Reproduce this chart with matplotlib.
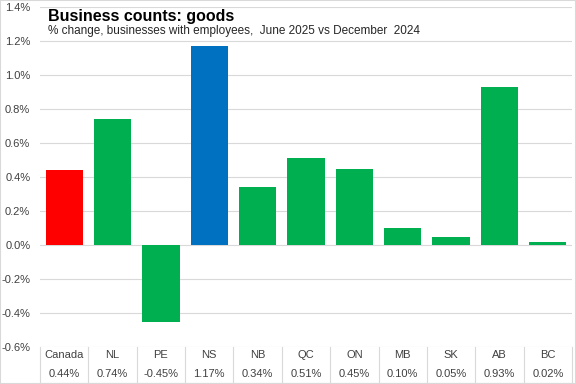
import numpy as np
import matplotlib.pyplot as plt
import matplotlib.transforms as mtransforms
from matplotlib.patches import Rectangle

# Data
regions = ["Canada", "NL", "PE", "NS", "NB", "QC", "ON", "MB", "SK", "AB", "BC"]
changes = [0.44, 0.74, -0.45, 1.17, 0.34, 0.51, 0.45, 0.10, 0.05, 0.93, 0.02]
value_labels = ["0.44%", "0.74%", "-0.45%", "1.17%", "0.34%", "0.51%", "0.45%",
                "0.10%", "0.05%", "0.93%", "0.02%"]
bar_colors = ["#FF0000", "#00B050", "#00B050", "#0070C0", "#00B050", "#00B050",
              "#00B050", "#00B050", "#00B050", "#00B050", "#00B050"]

plt.rcParams['font.family'] = ['Liberation Sans', 'DejaVu Sans']

fig = plt.figure(figsize=(5.76, 3.84), dpi=100)
ax = fig.add_axes([40/576, 1 - 347/384, 532/576, 340/384])

x = np.arange(len(regions))
ax.bar(x, changes, width=0.77, color=bar_colors, zorder=3)

ax.set_xlim(-0.5, len(regions) - 0.5)
ax.set_ylim(-0.6, 1.4)
yt = np.arange(-0.6, 1.41, 0.2)
ax.set_yticks(yt)
ax.set_yticklabels(["%.1f%%" % v for v in yt], fontsize=8, color="#404040")
ax.tick_params(axis="y", length=0, pad=7)
ax.set_xticks([])
ax.grid(axis="y", color="#D9D9D9", linewidth=0.8, zorder=0)
for s in ax.spines.values():
    s.set_visible(False)

# Data table under the chart
trans = mtransforms.blended_transform_factory(ax.transData, fig.transFigure)
for i, (r, v) in enumerate(zip(regions, value_labels)):
    ax.text(i, 1 - 355/384, r, transform=trans, ha="center", va="center",
            fontsize=8, color="#404040")
    ax.text(i, 1 - 374/384, v, transform=trans, ha="center", va="center",
            fontsize=8, color="#404040")
for b in np.arange(-0.5, len(regions), 1.0):
    ax.plot([b, b], [1 - 347/384, 1 - 383/384], transform=trans, color="#D9D9D9",
            linewidth=0.8, clip_on=False)
ax.plot([-0.5, len(regions) - 0.5], [1 - 383/384, 1 - 383/384], transform=trans,
        color="#D9D9D9", linewidth=0.8, clip_on=False)

# Titles
fig.text(48/576, 1 - 17/384, "Business counts: goods", fontsize=11.5,
         fontweight="bold", va="center", ha="left")
fig.text(48/576, 1 - 31/384, "% change, businesses with employees,  June 2025 vs December  2024",
         fontsize=8.5, va="center", ha="left", color="#262626")

# Outer border
fig.patches.append(Rectangle((0, 0), 1, 1, transform=fig.transFigure, fill=False,
                             edgecolor="#D9D9D9", linewidth=1.5))

fig.savefig("out.png", dpi=100)
